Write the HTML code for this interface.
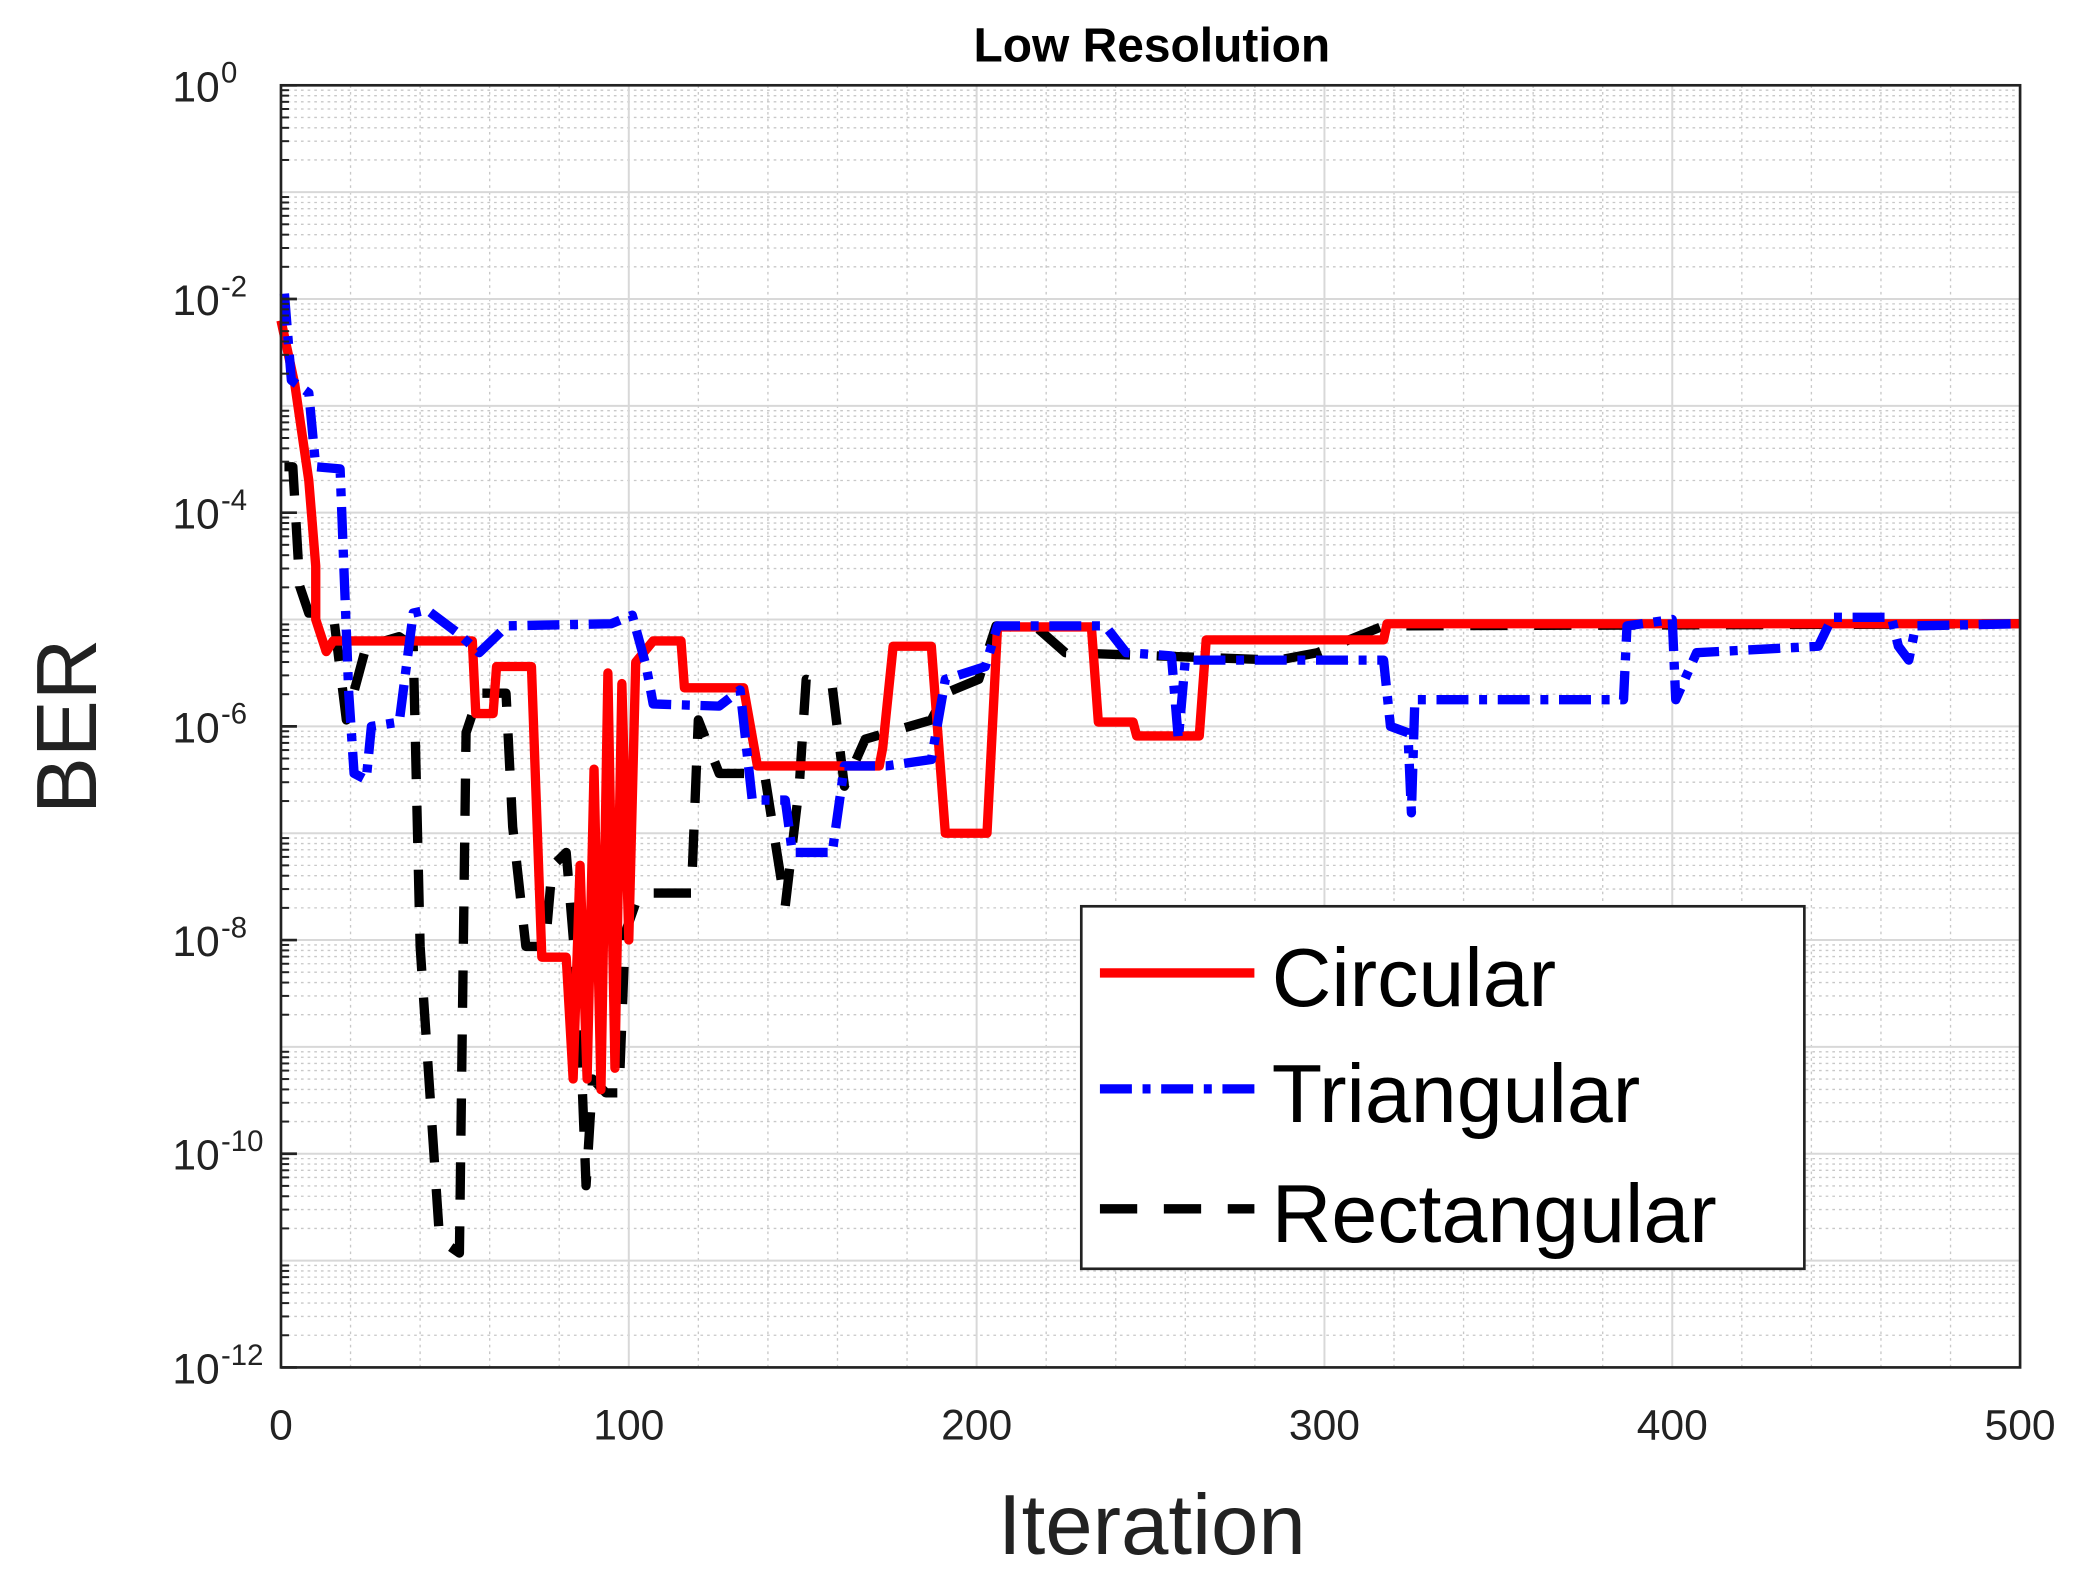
<!DOCTYPE html>
<html><head><meta charset="utf-8"><style>
html,body{margin:0;padding:0;background:#fff;}
svg{display:block;font-family:"Liberation Sans",Arial,sans-serif;}
</style></head><body>
<svg id="chart" width="2088" height="1578" viewBox="0 0 1568 1184" preserveAspectRatio="none" xmlns="http://www.w3.org/2000/svg">
<rect x="0" y="0" width="1568" height="1184" fill="#fff"/>
<g id="grid"></g>
<g id="series"></g>
<rect x="211" y="64" width="1306" height="962" fill="none" stroke="#222" stroke-width="2"/>
<g id="ticks"></g>
<text x="865" y="46" text-anchor="middle" font-size="36" font-weight="bold">Low Resolution</text>
<text x="865" y="1166" text-anchor="middle" font-size="64" fill="#222">Iteration</text>
<text x="72" y="545" text-anchor="middle" font-size="64" fill="#222" transform="rotate(-90 72 545)">BER</text>
<g>
<rect x="812" y="680" width="543" height="272" fill="#fff" stroke="#222" stroke-width="2"/>
<line x1="826" y1="730" x2="942" y2="730" stroke="#f00" stroke-width="7"/>
<text x="955" y="755" font-size="62">Circular</text>
<line x1="826" y1="817" x2="942" y2="817" stroke="#00f" stroke-width="7" stroke-dasharray="24,8,6,8"/>
<text x="955" y="842" font-size="62">Triangular</text>
<line x1="826" y1="907" x2="942" y2="907" stroke="#000" stroke-width="7" stroke-dasharray="28,20"/>
<text x="955" y="932" font-size="62">Rectangular</text>
</g>
</svg>
<script>
// log10(BER) values
const xTicks = [0,100,200,300,400,500];
const yTickExps = [0,-2,-4,-6,-8,-10,-12];
const redX = [0,4,8,10,10,13,15,55,56,61,62,72,75,82,84,86,88,90,92,94,96,98,100,102,107,115,116,133,137,172,173,176,187,191,203,206,233,235,245,246,264,266,317,318,500];
const redY = [-2.2,-2.8,-3.7,-4.5,-5.0,-5.3,-5.2,-5.2,-5.88,-5.88,-5.44,-5.44,-8.16,-8.16,-9.3,-7.3,-9.3,-6.4,-9.4,-5.5,-9.2,-5.6,-8.0,-5.4,-5.2,-5.2,-5.64,-5.64,-6.37,-6.37,-6.2,-5.25,-5.25,-7.0,-7.0,-5.07,-5.07,-5.96,-5.96,-6.09,-6.09,-5.19,-5.19,-5.04,-5.04];
const blueX = [1,3,8,10,17,18,19.5,21,24.5,26,34,38,42,51,57,65,95,101,105,107,126,132,135.5,145,147,158.5,162,174,187,191,202.5,206,237,243,256,258,260,317,319,324,325,326,386,387,400,401,407,442,446,463,465,468,470,500];
const blueY = [-1.95,-2.76,-2.88,-3.57,-3.59,-4.44,-5.69,-6.44,-6.5,-6.0,-5.96,-4.94,-4.91,-5.13,-5.31,-5.06,-5.04,-4.96,-5.44,-5.79,-5.81,-5.66,-6.69,-6.69,-7.18,-7.18,-6.37,-6.37,-6.31,-5.56,-5.44,-5.06,-5.06,-5.31,-5.34,-6.12,-5.38,-5.38,-6.0,-6.06,-6.81,-5.75,-5.75,-5.06,-5.0,-5.75,-5.31,-5.25,-4.98,-4.98,-5.25,-5.38,-5.06,-5.04];
const blackX = [1,3.4,5.4,8,15,18.8,24.5,34,38,40,45.6,51.3,53.2,57,64.7,66.6,70.4,76,78,82,85.8,87.7,89.6,93.4,97.2,99,103,118,120,126,139,145,149,151,158.5,162,168,187,191,200.6,205.6,217.8,225.5,286.8,298,317,500];
const blackY = [-3.57,-3.57,-4.69,-4.94,-4.94,-5.94,-5.25,-5.16,-5.25,-8.06,-10.8,-10.93,-6.06,-5.69,-5.69,-6.94,-8.06,-8.06,-7.31,-7.18,-8.68,-10.3,-9.3,-9.43,-9.43,-7.93,-7.56,-7.56,-5.94,-6.44,-6.44,-7.68,-6.56,-5.56,-5.63,-6.56,-6.12,-5.94,-5.69,-5.56,-5.06,-5.09,-5.31,-5.38,-5.31,-5.06,-5.04];

const NS='http://www.w3.org/2000/svg';
const L=211,R=1517,T=64,B=1026;
const xs=v=>L+(v-0)/500*(R-L);
const ys=e=>T+(0-e)/12*(B-T);
function mk(tag,attrs,parent){const e=document.createElementNS(NS,tag);for(const k in attrs)e.setAttribute(k,attrs[k]);parent.appendChild(e);return e;}
const grid=document.getElementById('grid'),ticks=document.getElementById('ticks'),series=document.getElementById('series');
for(let d=0;d>-12;d--){for(let m=2;m<=9;m++){const y=ys(d-1+Math.log10(m));
const g=mk('line',{x1:L,x2:R,y1:y,y2:y,stroke:'#c8c8c8','stroke-width':1,'stroke-dasharray':'2,3'},grid);


const t=mk('line',{x1:L,x2:L+6,y1:y,y2:y,stroke:'#222','stroke-width':1.5},ticks);

}}
for(let v=20;v<500;v+=20){if(v%100===0)continue;const x=xs(v);
const g=mk('line',{x1:x,x2:x,y1:T,y2:B,stroke:'#c8c8c8','stroke-width':1,'stroke-dasharray':'2,3'},grid);

}
for(let e=0;e>=-12;e--){const y=ys(e);
const g=mk('line',{x1:L,x2:R,y1:y,y2:y,stroke:'#d8d8d8','stroke-width':1.5},grid);

}
xTicks.forEach(v=>{const x=xs(v);
const g=mk('line',{x1:x,x2:x,y1:T,y2:B,stroke:'#d8d8d8','stroke-width':1.5},grid);


const t=mk('text',{x:x,y:1080,'text-anchor':'middle','font-size':32,fill:'#222'},ticks);t.textContent=v;

});
yTickExps.forEach(e=>{const y=ys(e);
const t=mk('text',{x:165,y:y+12,'text-anchor':'end','font-size':32,fill:'#222'},ticks);t.textContent='10';


const s=mk('text',{x:166,y:y-2,'text-anchor':'start','font-size':22,fill:'#222'},ticks);s.textContent=e;


const k=mk('line',{x1:L,x2:L+12,y1:y,y2:y,stroke:'#222','stroke-width':2},ticks);

});
function draw(X,Y,color,dash,name){const pts=X.map((v,i)=>xs(v).toFixed(1)+','+ys(Y[i]).toFixed(1)).join(' ');
const p=mk('polyline',{points:pts,fill:'none',stroke:color,'stroke-width':7,'stroke-linejoin':'round'},series);
if(dash)p.setAttribute('stroke-dasharray',dash);

}
draw(blackX,blackY,'#000','28,20','rectangular-line');
draw(redX,redY,'#f00',null,'circular-line');
draw(blueX,blueY,'#00f','24,8,6,8','triangular-line');
</script>
</body></html>
